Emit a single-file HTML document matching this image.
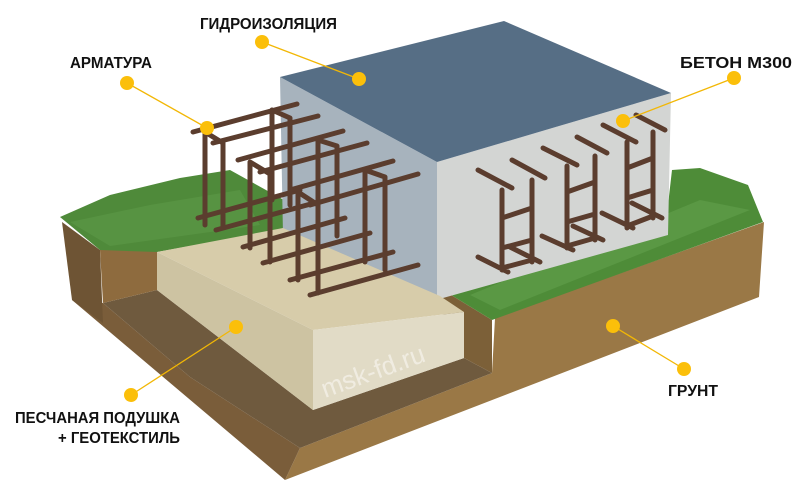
<!DOCTYPE html>
<html><head><meta charset="utf-8"><style>
html,body{margin:0;padding:0;background:#fff;width:800px;height:500px;overflow:hidden}
svg{display:block}
text{font-family:"Liberation Sans","DejaVu Sans",sans-serif;font-weight:bold;font-size:16px;fill:#111}
</style></head><body>
<svg width="800" height="500" viewBox="0 0 800 500" xmlns="http://www.w3.org/2000/svg">
<!-- soil -->
<polygon points="300,448 492,373 495,318 764,222 759,297 285,480" fill="#9a7846"/>
<polygon points="72,300 103,303 190,377 300,448 285,480" fill="#7a5d3a"/>
<polygon points="103,303 157,290 313,410 464,358 492,373 300,448 190,377" fill="#6f5a3e"/>
<polygon points="62,222 100,250 103,323 72,300" fill="#6e5434"/>
<polygon points="100,250 225,216 250,228 157,252 157,290 103,303" fill="#8e6b3e"/>
<polygon points="443,290 492,320 492,373 464,358 443,352" fill="#7c6038"/>
<!-- grass -->
<polygon points="60,217 110,195 180,178 230,170 284,200 290,228 157,252 100,250" fill="#4f8a3a"/>
<polygon points="443,280 668,205 672,170 700,168 748,185 763,222 492,320 443,290" fill="#4e8c38"/>
<polygon points="70,222 150,205 240,190 260,225 110,246" fill="#5d9a47" opacity="0.6"/>
<polygon points="470,295 700,200 750,210 500,310" fill="#66a350" opacity="0.5"/>
<!-- concrete block -->
<polygon points="280,77 437,162 437,300 283,235" fill="#a7b3bd"/>
<polygon points="437,162 671,93 668,235 443,298 437,300" fill="#d3d5d3"/>
<polygon points="280,77 504,21 671,93 437,162" fill="#566e85"/>
<!-- sand pad -->
<polygon points="157,252 283,228 440,296 464,312 313,330" fill="#d7ccaa"/>
<polygon points="157,252 313,330 313,410 157,290" fill="#cdc3a2"/>
<polygon points="313,330 464,312 464,358 313,410" fill="#e1dbc6"/>
<text x="325" y="398" transform="rotate(-20 325 398)" style="font-size:26px;font-weight:normal;fill:#f4f1e8;opacity:.8">msk-fd.ru</text>
<!-- rebar left cages -->
<g stroke="#5b3d2e" stroke-width="5" stroke-linecap="round" fill="none">
<path d="M205,132V225M223,143V228M272,110V200M290,118V205M198,218L300,190M216,230L318,202M193,132L297,104M213,143L318,116M205,132L223,143M272,110L290,118"/>
<path d="M250,162V248M270,174V262M318,140V228M337,146V236M243,247L345,218M263,263L370,233M238,160L343,131M260,172L367,143M250,162L270,174M318,140L337,146"/>
<path d="M298,192V280M318,205V293M365,170V262M385,177V270M290,280L393,252M310,295L418,265M290,190L393,161M310,205L418,174M298,192L318,205M365,170L385,177"/>
<!-- right ladders -->
<path d="M502,190V270M532,180V262M502,218L532,208M502,248L532,240M478,170L512,188M512,160L545,178M478,257L508,272M510,247L540,262M502,268L532,260"/>
<path d="M567,166V248M595,156V240M567,192L595,182M567,222L595,214M543,148L577,165M577,137L607,153M542,236L573,250M573,226L603,240M567,246L595,238"/>
<path d="M627,142V228M653,132V218M627,168L653,158M627,198L653,190M603,125L636,142M636,115L665,130M602,213L633,228M632,203L662,218M627,226L653,216"/>
</g>
<!-- leaders -->
<g stroke="#f2b705" stroke-width="1.3">
<line x1="262" y1="42" x2="359" y2="79"/>
<line x1="127" y1="83" x2="207" y2="128"/>
<line x1="734" y1="78" x2="623" y2="121"/>
<line x1="236" y1="327" x2="131" y2="395"/>
<line x1="613" y1="326" x2="684" y2="369"/>
</g>
<g fill="#fbbf0a">
<circle cx="262" cy="42" r="7"/><circle cx="359" cy="79" r="7"/>
<circle cx="127" cy="83" r="7"/><circle cx="207" cy="128" r="7"/>
<circle cx="734" cy="78" r="7"/><circle cx="623" cy="121" r="7"/>
<circle cx="236" cy="327" r="7"/><circle cx="131" cy="395" r="7"/>
<circle cx="613" cy="326" r="7"/><circle cx="684" cy="369" r="7"/>
</g>
<text x="200" y="29" textLength="137" lengthAdjust="spacingAndGlyphs">ГИДРОИЗОЛЯЦИЯ</text>
<text x="70" y="68" textLength="82" lengthAdjust="spacingAndGlyphs">АРМАТУРА</text>
<text x="680" y="68" textLength="112" lengthAdjust="spacingAndGlyphs">БЕТОН М300</text>
<text x="668" y="396" textLength="50" lengthAdjust="spacingAndGlyphs">ГРУНТ</text>
<text x="15" y="423" textLength="165" lengthAdjust="spacingAndGlyphs">ПЕСЧАНАЯ ПОДУШКА</text>
<text x="58" y="443" textLength="122" lengthAdjust="spacingAndGlyphs">+ ГЕОТЕКСТИЛЬ</text>
</svg>
</body></html>
